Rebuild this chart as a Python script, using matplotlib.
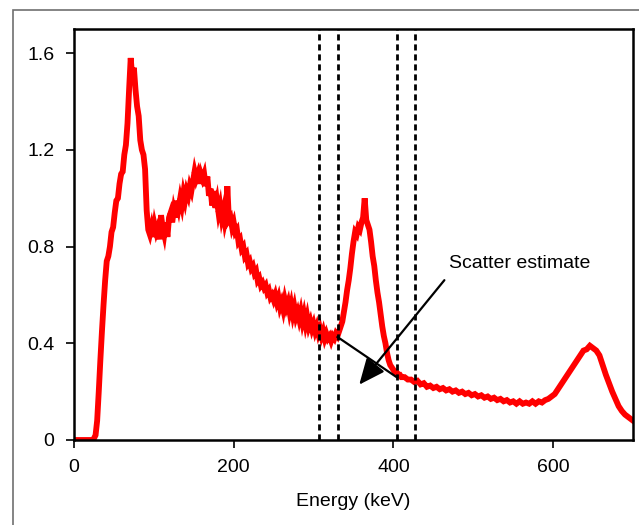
import numpy as np
import matplotlib
matplotlib.use('Agg')
import matplotlib.pyplot as plt
from matplotlib.patches import Rectangle

plt.rcParams['font.family'] = ['Liberation Sans', 'DejaVu Sans']

## Spectrum (energy in keV, counts normalised)
energy = [0, 24, 27, 29, 31, 33, 35, 37, 39, 41, 43, 45, 47, 49, 51, 53, 55, 57, 59, 61,
          63, 65, 67, 69, 71, 73, 75, 77, 79, 81, 83, 85, 87, 89, 91, 93, 95, 97, 99, 101,
          103, 105, 107, 109, 111, 113, 115, 117, 119, 121, 123, 125, 127, 129, 131, 133, 135, 137, 139, 141,
          143, 145, 147, 149, 151, 153, 155, 157, 159, 161, 163, 165, 167, 169, 171, 173, 175, 177, 179, 181,
          183, 185, 187, 189, 191, 192, 194, 196, 198, 200, 202, 204, 206, 208, 210, 212, 214, 216, 218, 220,
          222, 224, 226, 228, 230, 232, 234, 236, 238, 240, 242, 244, 246, 248, 250, 252, 254, 256, 258, 260,
          262, 264, 266, 268, 270, 272, 274, 276, 278, 280, 282, 284, 286, 288, 290, 292, 294, 296, 298, 300,
          302, 304, 306, 308, 310, 312, 314, 316, 318, 320, 322, 324, 326, 328, 330, 332, 334, 336, 338, 340,
          342, 344, 346, 348, 350, 352, 354, 356, 358, 360, 362, 364, 366, 368, 370, 372, 374, 376, 378, 380,
          382, 384, 386, 388, 390, 392, 394, 396, 398, 400, 402, 404, 406, 408, 410, 414, 418, 422, 426, 430,
          434, 438, 442, 446, 450, 454, 458, 462, 466, 470, 474, 478, 482, 486, 490, 494, 498, 502, 506, 510,
          514, 518, 522, 526, 530, 534, 538, 542, 546, 550, 554, 558, 562, 566, 570, 574, 578, 582, 586, 590,
          594, 598, 602, 606, 610, 614, 618, 622, 626, 630, 634, 638, 642, 646, 650, 654, 658, 662, 666, 670,
          674, 678, 682, 686, 690, 694, 698, 700]
counts = [0, 0, 0.02, 0.08, 0.20, 0.33, 0.45, 0.56, 0.66, 0.74, 0.76, 0.80, 0.86, 0.88, 0.94, 0.99, 1.00, 1.06, 1.10, 1.11,
          1.18, 1.22, 1.31, 1.45, 1.58, 1.50, 1.54, 1.45, 1.38, 1.34, 1.24, 1.20, 1.18, 1.12, 0.95, 0.87, 0.85, 0.88, 0.84, 0.89,
          0.86, 0.88, 0.83, 0.93, 0.88, 0.85, 0.90, 0.84, 0.92, 0.94, 0.90, 0.95, 0.92, 0.99, 0.96, 1.00, 0.97, 1.02, 0.99, 1.03,
          1.01, 1.05, 1.03, 1.07, 1.11, 1.08, 1.10, 1.06, 1.10, 1.08, 1.10, 1.05, 1.09, 1.01, 1.04, 0.97, 1.03, 0.96, 0.99, 0.94,
          0.97, 0.92, 0.95, 0.90, 0.93, 1.05, 0.91, 0.92, 0.88, 0.90, 0.86, 0.87, 0.82, 0.83, 0.79, 0.80, 0.76, 0.77, 0.73, 0.74,
          0.71, 0.72, 0.69, 0.70, 0.66, 0.67, 0.64, 0.65, 0.63, 0.64, 0.61, 0.62, 0.59, 0.60, 0.58, 0.60, 0.57, 0.59, 0.55, 0.57,
          0.54, 0.58, 0.55, 0.57, 0.53, 0.56, 0.52, 0.55, 0.51, 0.53, 0.50, 0.53, 0.49, 0.52, 0.48, 0.51, 0.47, 0.49, 0.46, 0.48,
          0.45, 0.47, 0.44, 0.46, 0.43, 0.45, 0.42, 0.44, 0.42, 0.43, 0.41, 0.43, 0.42, 0.44, 0.43, 0.45, 0.47, 0.49, 0.53, 0.57,
          0.62, 0.66, 0.71, 0.77, 0.82, 0.86, 0.85, 0.88, 0.87, 0.90, 0.92, 1.00, 0.91, 0.89, 0.87, 0.82, 0.76, 0.72, 0.66, 0.61,
          0.57, 0.52, 0.47, 0.43, 0.40, 0.36, 0.33, 0.31, 0.30, 0.29, 0.28, 0.28, 0.27, 0.27, 0.26, 0.26, 0.25, 0.25, 0.24, 0.245,
          0.23, 0.235, 0.22, 0.225, 0.215, 0.22, 0.21, 0.215, 0.205, 0.21, 0.20, 0.205, 0.195, 0.20, 0.19, 0.195, 0.185, 0.19, 0.18, 0.185,
          0.175, 0.18, 0.17, 0.175, 0.165, 0.17, 0.16, 0.165, 0.155, 0.16, 0.15, 0.16, 0.15, 0.155, 0.15, 0.16, 0.15, 0.16, 0.155, 0.165,
          0.17, 0.18, 0.19, 0.21, 0.23, 0.25, 0.27, 0.29, 0.31, 0.33, 0.35, 0.37, 0.375, 0.39, 0.38, 0.37, 0.35, 0.31, 0.27, 0.235,
          0.20, 0.17, 0.14, 0.12, 0.105, 0.095, 0.085, 0.08]

## Energy windows (dashed lines) and the scatter estimate line
windows = [307, 330, 404, 427]
scatter_e = [330, 404]
scatter_c = [0.426, 0.26]
xticks = [0, 200, 400, 600]
yticks = [0, 0.4, 0.8, 1.2, 1.6]
ytick_labels = ['0', '0.4', '0.8', '1.2', '1.6']

fig = plt.figure(figsize=(6.39, 5.25), dpi=100)
# grey frame round the whole picture
fig.add_artist(Rectangle((13 / 639, -0.05), 1.1, 0.981 + 0.05, transform=fig.transFigure,
                         fill=False, edgecolor='#707070', lw=1.2))
ax = fig.add_axes([74 / 639, 1 - 440 / 525, 559 / 639, 411 / 525])

ax.plot(energy, counts, color='#ff0000', lw=4.2, solid_joinstyle='miter')
for w in windows:
    ax.axvline(w, color='black', ls=(0, (2.2, 1.4)), lw=2.0)
ax.plot(scatter_e, scatter_c, color='black', lw=1.6)

ax.annotate('', xy=(355, 0.22), xytext=(466, 0.67),
            arrowprops=dict(arrowstyle='-|>,head_length=0.8,head_width=0.35',
                            color='black', lw=1.6, mutation_scale=20))
ax.text(470, 0.73, 'Scatter estimate', fontsize=14, va='center', ha='left')

ax.set_xlim(0, 700)
ax.set_ylim(0, 1.7)
ax.set_xticks(xticks)
ax.set_yticks(yticks)
ax.set_yticklabels(ytick_labels)
ax.tick_params(labelsize=14, direction='out', length=6, width=1.2, pad=8)
for s in ax.spines.values():
    s.set_linewidth(1.8)
ax.set_xlabel('Energy (keV)', fontsize=14, labelpad=12)

plt.savefig('out.png', dpi=100)
